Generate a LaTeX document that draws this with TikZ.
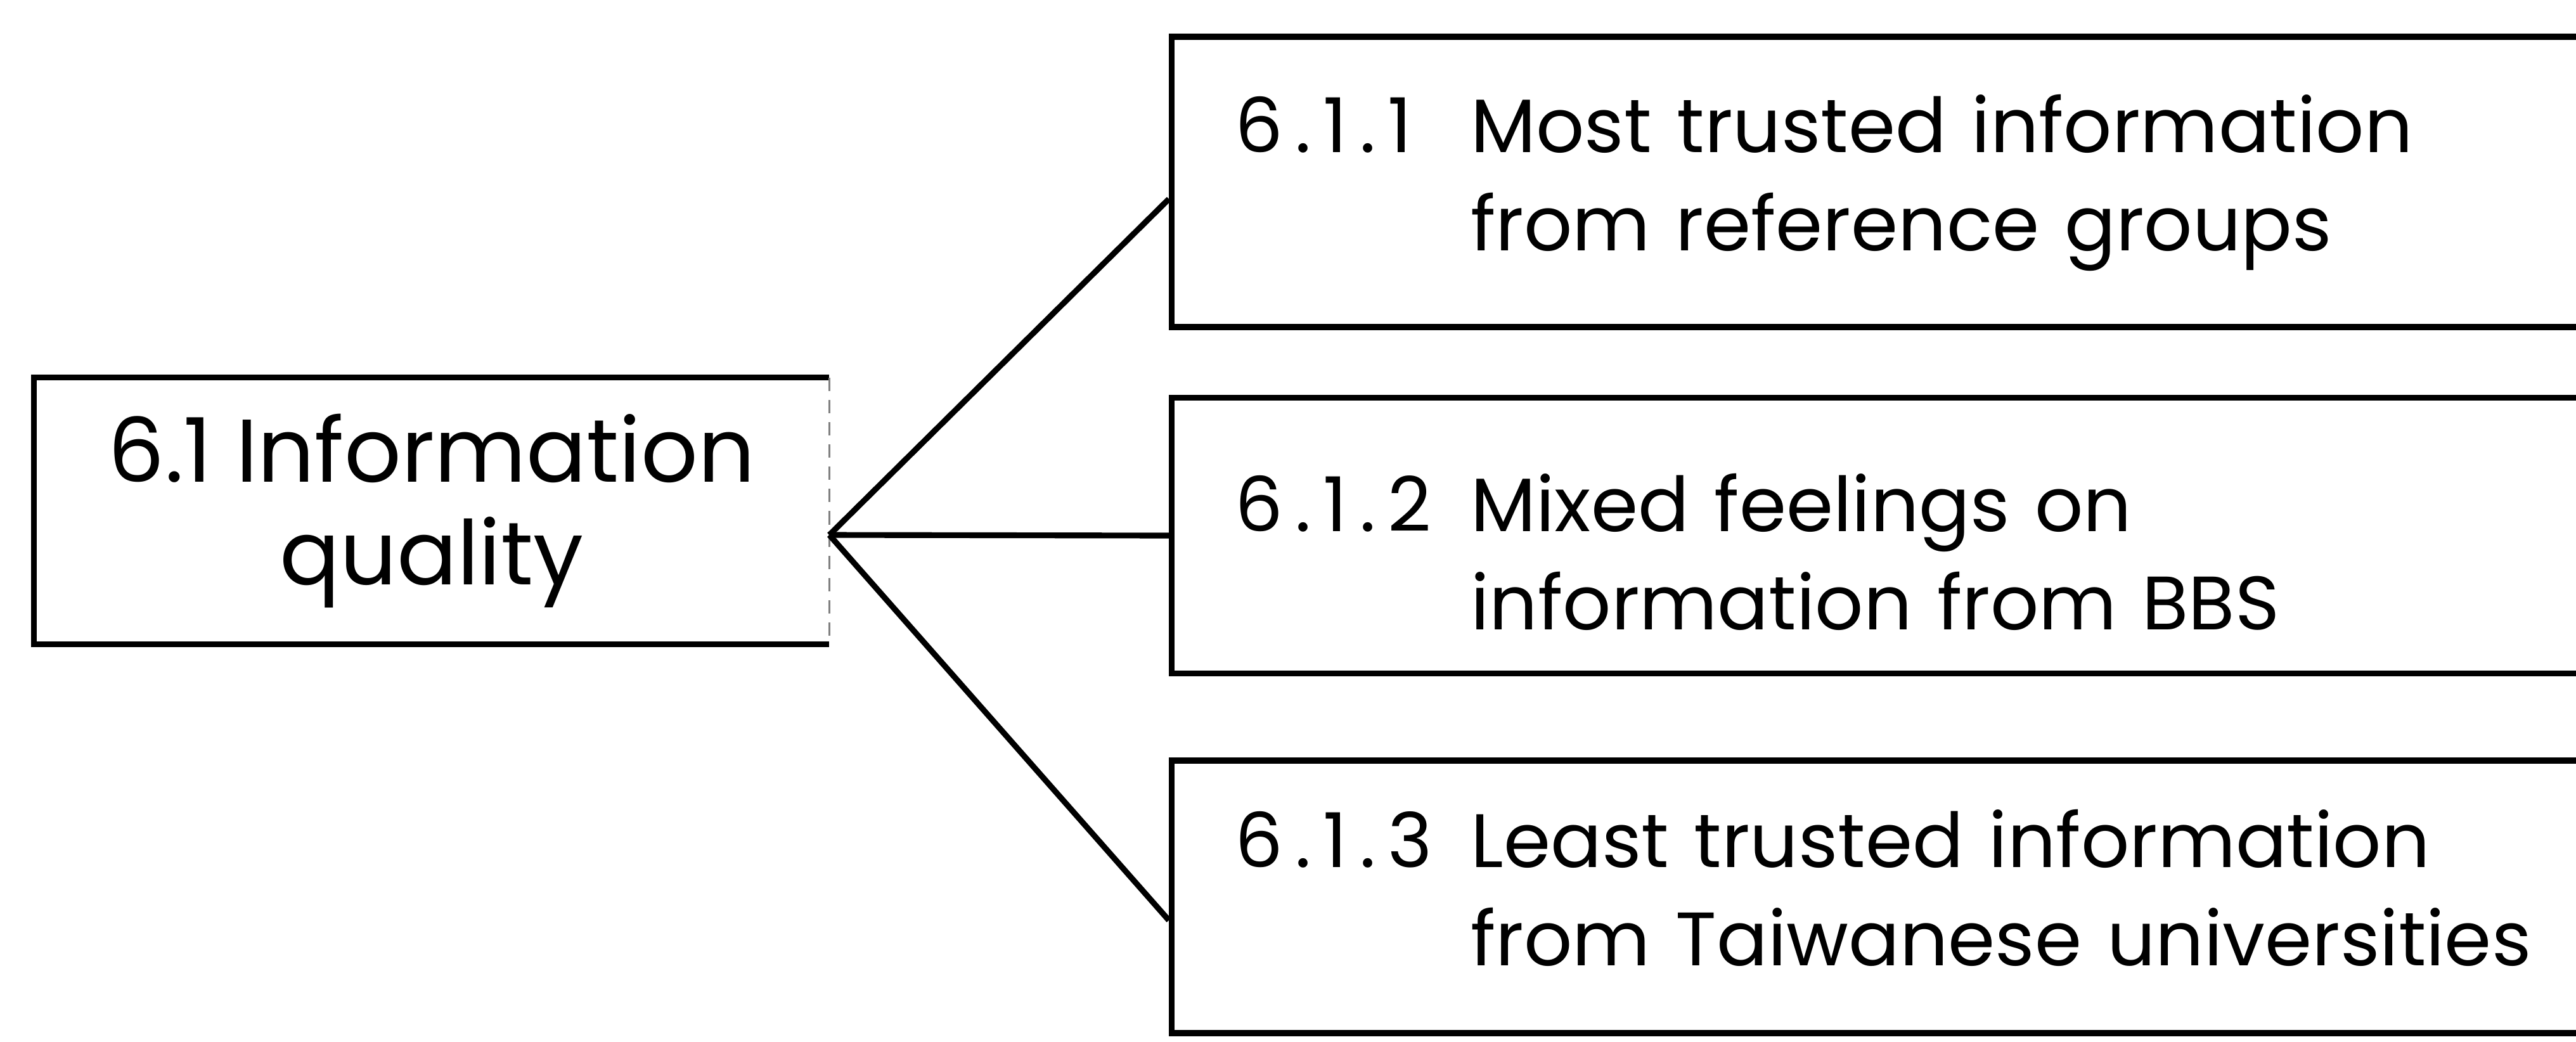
\documentclass[tikz,border=0pt]{standalone}
\usepackage{fontspec}
\setmainfont{Poppins}
\newfontfamily\numfont[LetterSpace=16]{Poppins}
\usepackage{tikz}

\begin{document}
\begin{tikzpicture}
		\useasboundingbox (0,0) rectangle (20.32,8.215);
		\tikzstyle{every node}+=[inner sep=0pt]
		\tikzstyle{subbox}=[draw,line width=1.3pt,anchor=west,text width=11cm,align=left,inner xsep=0.5cm,font=\fontsize{17}{22}\selectfont]
		\node[minimum width=6.26cm,minimum height=2.09cm,align=center,font=\fontsize{20}{23}\selectfont] (q) at (3.405,4.185) {6.1 Information\\quality};
		\node[subbox,minimum height=2.29cm] (b1) at (9.22,6.78) {\begin{tabular}{@{}p{1.86cm}@{}l@{}}\numfont 6.1.1 & Most trusted information\\ & from reference groups\end{tabular}};
		\node[subbox,minimum height=2.175cm] (b2) at (9.22,3.99) {\begin{tabular}{@{}p{1.86cm}@{}l@{}}\rule{0pt}{0.94cm}\numfont 6.1.2 & Mixed feelings on\\ & information from BBS\end{tabular}};
		\node[subbox,minimum height=2.15cm] (b3) at (9.22,1.14) {\begin{tabular}{@{}p{1.86cm}@{}l@{}}\numfont 6.1.3 & Least trusted information\\ & from Taiwanese universities\end{tabular}};
		\draw[line width=1.3pt] (q.north east) -- (q.north west) -- (q.south west) -- (q.south east);
		\draw[thin,densely dashed,gray] (q.north east) -- (q.south east);
		\coordinate (j) at ([yshift=-0.19cm]q.east);
		\tikzstyle{every edge}+=[line width=1.3pt]
		\draw (j) edge ([yshift=-0.135cm]b1.west)
			  edge (b2.west)
			  edge ([yshift=-0.185cm]b3.west);
\end{tikzpicture}
\end{document}
